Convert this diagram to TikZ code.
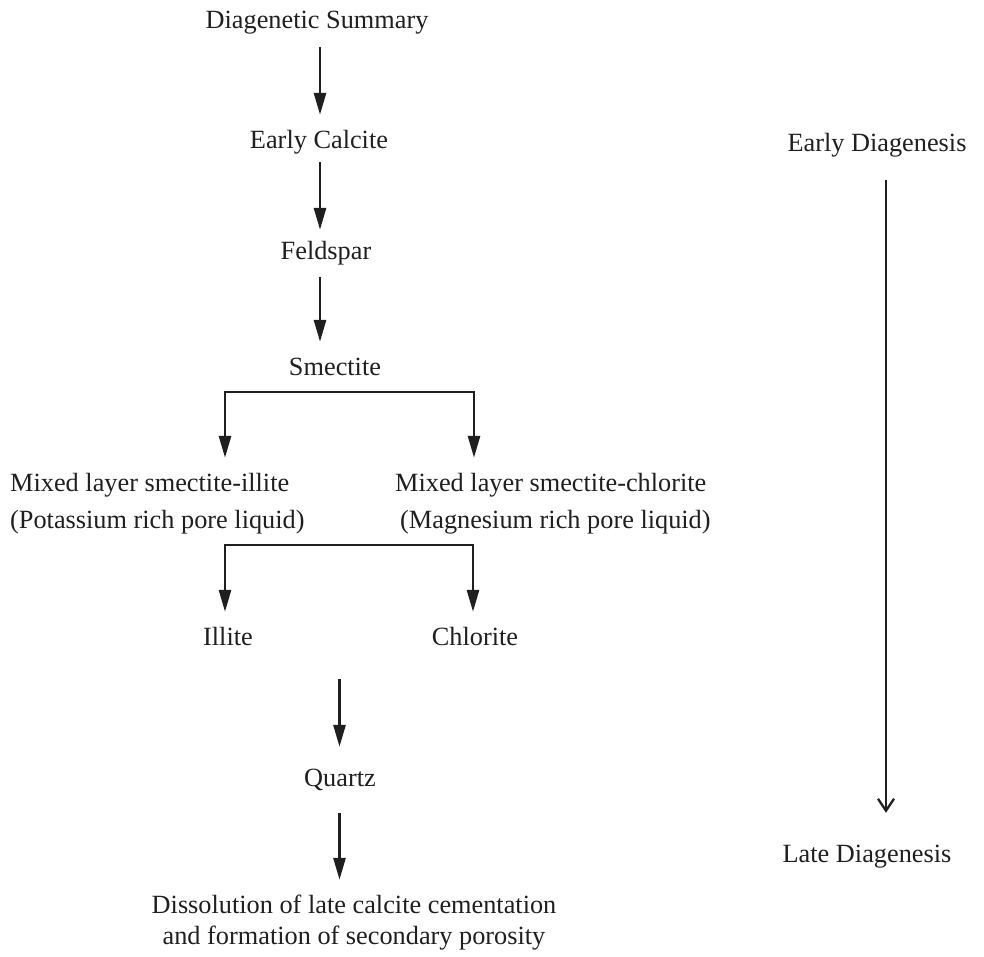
\documentclass[tikz,border=0pt]{standalone}
\usepackage{fontspec}
\setmainfont{Liberation Serif}
\usetikzlibrary{arrows.meta}
\begin{document}
\begin{tikzpicture}[x=1pt,y=-1pt,
  lbl/.style={inner sep=0pt, text height=18pt, text depth=6pt, text=black!88,
    font=\fontsize{26.3}{32}\selectfont},
  arr/.style={draw=black!88, line width=2.8pt, line join=miter,
    -{Triangle[length=22pt,width=12pt]}},
  thinarr/.style={draw=black!88, line width=2.3pt,
    -{Straight Barb[length=12pt,width=16pt,line width=2.3pt]}}]
\useasboundingbox (0,0) rectangle (984,956);
% column axes
\coordinate (ax1) at (320,0);
\coordinate (ax2) at (339.5,0);
\coordinate (ax3) at (886,0);
% main column
\node[lbl, anchor=base] (ds) at (317,28) {Diagenetic Summary};
\node[lbl, anchor=base] (ec) at (319,148) {Early Calcite};
\node[lbl, anchor=base] (fs) at (326,259) {Feldspar};
\node[lbl, anchor=base] (sm) at (335,375) {Smectite};
\node[lbl, anchor=base west] (msi) at (10,491) {Mixed layer smectite-illite};
\node[lbl, anchor=base west] (kpl) at (10,528) {(Potassium rich pore liquid)};
\node[lbl, anchor=base west] (msc) at (395,491) {Mixed layer smectite-chlorite};
\node[lbl, anchor=base west] (mpl) at (400,528) {(Magnesium rich pore liquid)};
\node[lbl, anchor=base] (il) at (228,645) {Illite};
\node[lbl, anchor=base] (ch) at (475,645) {Chlorite};
\node[lbl, anchor=base] (qz) at (340,786) {Quartz};
\node[lbl, anchor=base] (d1) at (354,913) {Dissolution of late calcite cementation};
\node[lbl, anchor=base] (d2) at (354,944) {and formation of secondary porosity};
% right column
\node[lbl, anchor=base] (ed) at (877,151) {Early Diagenesis};
\node[lbl, anchor=base] (ld) at (867,862) {Late Diagenesis};
% branch corners
\coordinate (b1l) at (225,392);
\coordinate (b1r) at (474,392);
\coordinate (b2l) at (225,545);
\coordinate (b2r) at (473,545);
% connectors
\draw[arr, shorten <=13pt, shorten >=15pt] (ds.south -| ax1) -- (ec.north -| ax1);
\draw[arr, shorten <=8pt, shorten >=11pt] (ec.south -| ax1) -- (fs.north -| ax1);
\draw[arr, shorten <=12pt, shorten >=15pt] (fs.south -| ax1) -- (sm.north -| ax1);
\draw[arr, shorten >=15pt] (b1r) -- (b1l) -- (b1l |- msi.north);
\draw[arr, shorten >=15pt] (b1l) -- (b1r) -- (b1r |- msc.north);
\draw[arr, shorten >=15pt] (b2r) -- (b2l) -- (b2l |- il.north);
\draw[arr, shorten >=15pt] (b2l) -- (b2r) -- (b2r |- ch.north);
\draw[arr, shorten <=28pt, shorten >=21pt] (il.south -| ax2) -- (qz.north -| ax2);
\draw[arr, shorten <=21pt, shorten >=15pt] (qz.south -| ax2) -- (d1.north -| ax2);
\draw[thinarr, shorten <=23pt, shorten >=31pt] (ed.south -| ax3) -- (ld.north -| ax3);
\end{tikzpicture}
\end{document}
